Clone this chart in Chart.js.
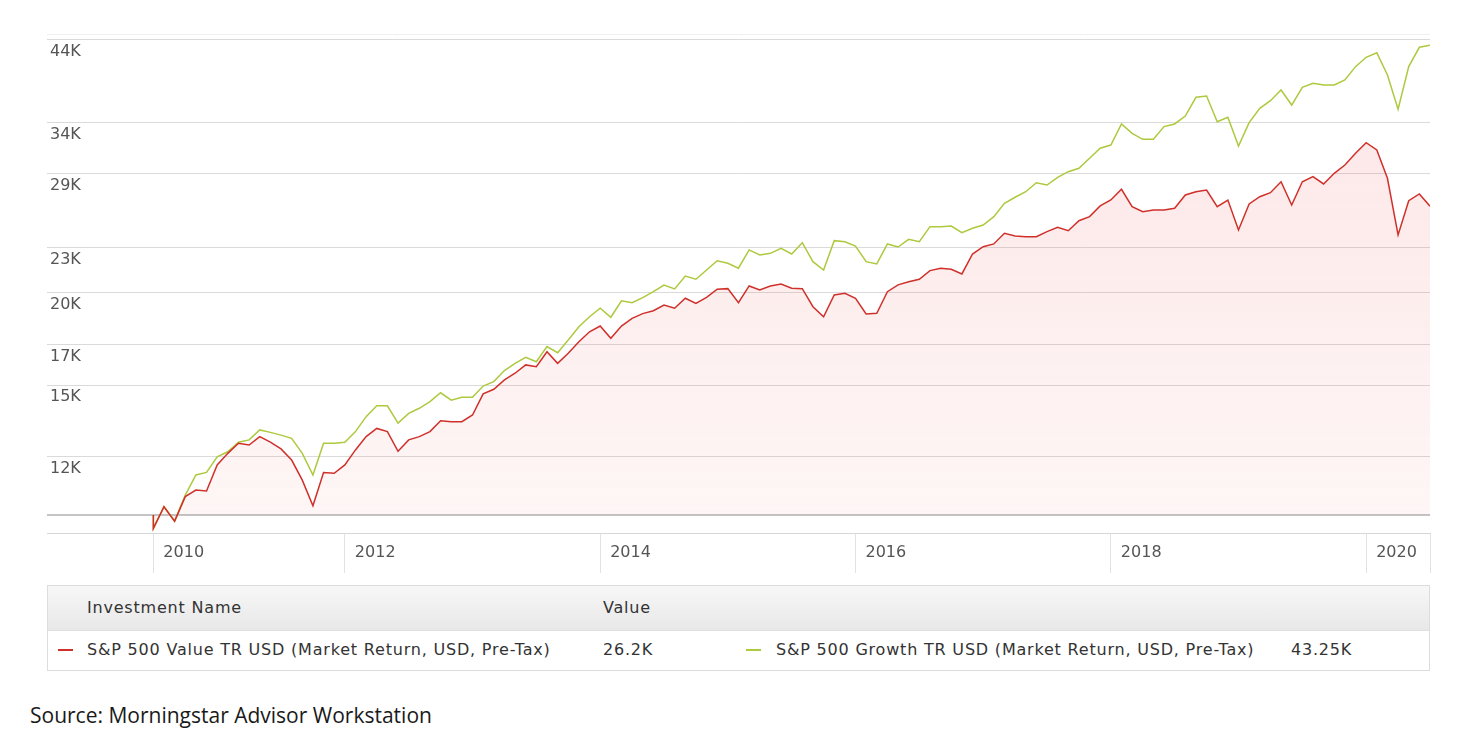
<!DOCTYPE html>
<html>
<head>
<meta charset="utf-8">
<script src="https://cdn.jsdelivr.net/npm/chart.js@4/dist/chart.umd.min.js"></script>
<style>
  body { margin: 0; background: #fff; width: 1473px; height: 746px; overflow: hidden; }
  #wrap { position: relative; width: 1473px; height: 746px; }
  #chartCanvas { position: absolute; left: 0; top: 0; }
  .legend {
    position: absolute; left: 47px; top: 585px; width: 1381px; height: 84px;
    border: 1px solid #dcdcdc; font-family: "DejaVu Sans", sans-serif; font-size: 16px;
    letter-spacing: 0.8px; color: #333;
  }
  .legend .head {
    position: relative; height: 44px;
    background: linear-gradient(#f7f7f7, #e8e8e8);
    border-bottom: 1px solid #e0e0e0;
  }
  .legend .row { position: relative; height: 39px; background: #fff; }
  .legend span { position: absolute; white-space: nowrap; }
  .legend .head span { top: 12px; }
  .legend .row span { top: 9px; }
  .dash { display: block; position: absolute; width: 15px; height: 2px; top: 18px; }
  .source {
    position: absolute; left: 30px; top: 701px;
    font-family: "Open Sans", sans-serif; font-size: 21px; color: #1a1a1a;
  }
</style>
</head>
<body>
<div id="wrap">
  <canvas id="chartCanvas" width="1473" height="573"></canvas>
  <div class="legend">
    <div class="head">
      <span style="left:39px">Investment Name</span>
      <span style="left:555px">Value</span>
    </div>
    <div class="row">
      <i class="dash" style="left:10px;background:#d0302a"></i>
      <span id="name0" style="left:39px"></span>
      <span id="val0" style="left:555px"></span>
      <i class="dash" style="left:698px;background:#adc93e"></i>
      <span id="name1" style="left:728px"></span>
      <span id="val1" style="left:1243px"></span>
    </div>
  </div>
  <div class="source">Source: Morningstar Advisor Workstation</div>
</div>
<script>
// growth of 10K, values in thousands USD
// first entry = start (10K), then month ends Jun 2010 .. Jun 2020
const seriesNames = [
  "S&P 500 Value TR USD (Market Return, USD, Pre-Tax)",
  "S&P 500 Growth TR USD (Market Return, USD, Pre-Tax)",
];
const seriesEndLabels = ["26.2K", "43.25K"];

const valueSeries = [
  10.00, 9.59, 10.26, 9.81, 10.59, 10.81, 10.78, 11.69, 12.12, 12.51, 12.44,
  12.77, 12.55, 12.29, 11.87, 11.15, 10.29, 11.42, 11.39, 11.69, 12.25, 12.77,
  13.10, 12.97, 12.20, 12.64, 12.77, 12.97, 13.42, 13.38, 13.38, 13.66, 14.59,
  14.80, 15.24, 15.56, 15.97, 15.88, 16.64, 16.05, 16.56, 17.17, 17.71, 18.03,
  17.35, 18.03, 18.47, 18.74, 18.91, 19.25, 19.06, 19.66, 19.35, 19.72, 20.22,
  20.26, 19.39, 20.43, 20.17, 20.43, 20.55, 20.28, 20.26, 19.15, 18.56, 19.86,
  19.97, 19.66, 18.72, 18.76, 20.07, 20.50, 20.70, 20.86, 21.43, 21.59, 21.52,
  21.21, 22.57, 23.09, 23.29, 24.08, 23.87, 23.82, 23.82, 24.20, 24.53, 24.27,
  25.04, 25.36, 26.22, 26.71, 27.62, 26.16, 25.75, 25.89, 25.89, 26.03, 27.13,
  27.41, 27.56, 26.16, 26.71, 24.33, 26.38, 26.99, 27.33, 28.28, 26.30, 28.28,
  28.73, 28.08, 29.03, 29.79, 30.90, 31.94, 31.22, 28.58, 23.95, 26.65, 27.22,
  26.20,
];

const growthSeries = [
  10.00, 9.59, 10.26, 9.81, 10.64, 11.33, 11.42, 11.99, 12.18, 12.55, 12.64,
  13.04, 12.94, 12.83, 12.70, 12.12, 11.33, 12.51, 12.51, 12.55, 12.97, 13.59,
  14.06, 14.06, 13.32, 13.73, 13.95, 14.24, 14.64, 14.31, 14.44, 14.44, 14.95,
  15.16, 15.69, 16.05, 16.35, 16.13, 16.91, 16.59, 17.26, 17.99, 18.56, 19.06,
  18.53, 19.51, 19.39, 19.70, 20.07, 20.49, 20.24, 21.07, 20.86, 21.47, 22.10,
  21.93, 21.59, 22.86, 22.50, 22.62, 22.98, 22.57, 23.38, 22.04, 21.47, 23.53,
  23.45, 23.14, 22.04, 21.88, 23.29, 23.07, 23.63, 23.45, 24.58, 24.58, 24.63,
  24.12, 24.46, 24.71, 25.36, 26.44, 26.94, 27.41, 28.19, 27.99, 28.67, 29.18,
  29.49, 30.42, 31.39, 31.71, 33.86, 32.89, 32.28, 32.28, 33.58, 33.86, 34.71,
  36.80, 36.95, 34.10, 34.57, 31.61, 34.00, 35.56, 36.41, 37.65, 35.92, 37.96,
  38.44, 38.24, 38.24, 38.84, 40.49, 41.69, 42.29, 39.45, 35.45, 40.49, 43.01,
  43.30,
];

const yTicks = [44, 34, 29, 23, 20, 17, 15, 12, 10];
const yTickLabels = ["44K", "34K", "29K", "23K", "20K", "17K", "15K", "12K", ""];
const xTicks = [2010.5, 2012, 2014, 2016, 2018, 2020];
const xTickLabels = ["2010", "2012", "2014", "2016", "2018", "2020"];

const startYear = 2010.5; // start of the period (Jun 2010)
const yMin = 9.454, yMax = 44.83;
const xMin = 2009.667, xMax = 2020.5;

// x position of each point, in years (start point and first month end share a spot)
const pointYears = valueSeries.map((_, i) => startYear + Math.max(0, i - 1) / 12);
const toPoints = (arr) => arr.map((v, i) => ({ x: pointYears[i], y: v }));

document.getElementById("name0").textContent = seriesNames[0];
document.getElementById("name1").textContent = seriesNames[1];
document.getElementById("val0").textContent = seriesEndLabels[0];
document.getElementById("val1").textContent = seriesEndLabels[1];

const FONT = "'DejaVu Sans', sans-serif";

const ctx = document.getElementById("chartCanvas").getContext("2d");
new Chart(ctx, {
  type: "line",
  data: {
    datasets: [
      {
        label: seriesNames[0],
        data: toPoints(valueSeries),
        borderColor: "#d0302a",
        borderWidth: 1.5,
        pointRadius: 0,
        tension: 0,
        fill: { value: 10 },
        backgroundColor: (c) => {
          const area = c.chart.chartArea;
          if (!area) return "rgba(240,80,80,0.08)";
          const g = c.chart.ctx.createLinearGradient(0, area.top, 0, area.bottom);
          g.addColorStop(0, "rgba(240,90,90,0.16)");
          g.addColorStop(1, "rgba(240,90,90,0.05)");
          return g;
        },
      },
      {
        label: seriesNames[1],
        data: toPoints(growthSeries),
        borderColor: "#adc93e",
        borderWidth: 1.5,
        pointRadius: 0,
        tension: 0,
        fill: false,
      },
    ],
  },
  options: {
    responsive: false,
    animation: false,
    devicePixelRatio: 1,
    layout: { padding: { left: 47, right: 43, top: 34, bottom: 0 } },
    plugins: { legend: { display: false }, tooltip: { enabled: false } },
    scales: {
      x: {
        type: "linear",
        min: xMin,
        max: xMax,
        afterBuildTicks: (s) => {
          s.ticks = xTicks.concat([xMax]).map((v) => ({ value: v }));
        },
        afterFit: (s) => { s.height = 40; },
        grid: { drawOnChartArea: false, drawTicks: true, tickLength: 40, color: "#e2e2e2" },
        border: { display: true, color: "#d6d6d6" },
        ticks: {
          autoSkip: false,
          maxRotation: 0,
          align: "start",
          labelOffset: 10,
          padding: -30,
          color: "#555",
          font: { family: FONT, size: 16 },
          callback: (v) => {
            const i = xTicks.indexOf(v);
            return i >= 0 ? xTickLabels[i] : "";
          },
        },
      },
      y: {
        type: "logarithmic",
        min: yMin,
        max: yMax,
        afterBuildTicks: (s) => {
          s.ticks = [yMax].concat(yTicks).map((v) => ({ value: v }));
        },
        afterFit: (s) => { s.width = 0; },
        grid: {
          drawTicks: false,
          color: (c) => (c.tick.value === 10 ? "#c4c4c4" : c.tick.value > 44.5 ? "#f0f0f0" : "#dadada"),
          lineWidth: (c) => (c.tick.value === 10 ? 2 : 1),
        },
        border: { display: false },
        ticks: {
          mirror: true,
          padding: 3,
          labelOffset: 12,
          color: "#555",
          font: { family: FONT, size: 16 },
          callback: (v) => {
            const i = yTicks.indexOf(v);
            return i >= 0 ? yTickLabels[i] : "";
          },
        },
      },
    },
  },
});
</script>
</body>
</html>
